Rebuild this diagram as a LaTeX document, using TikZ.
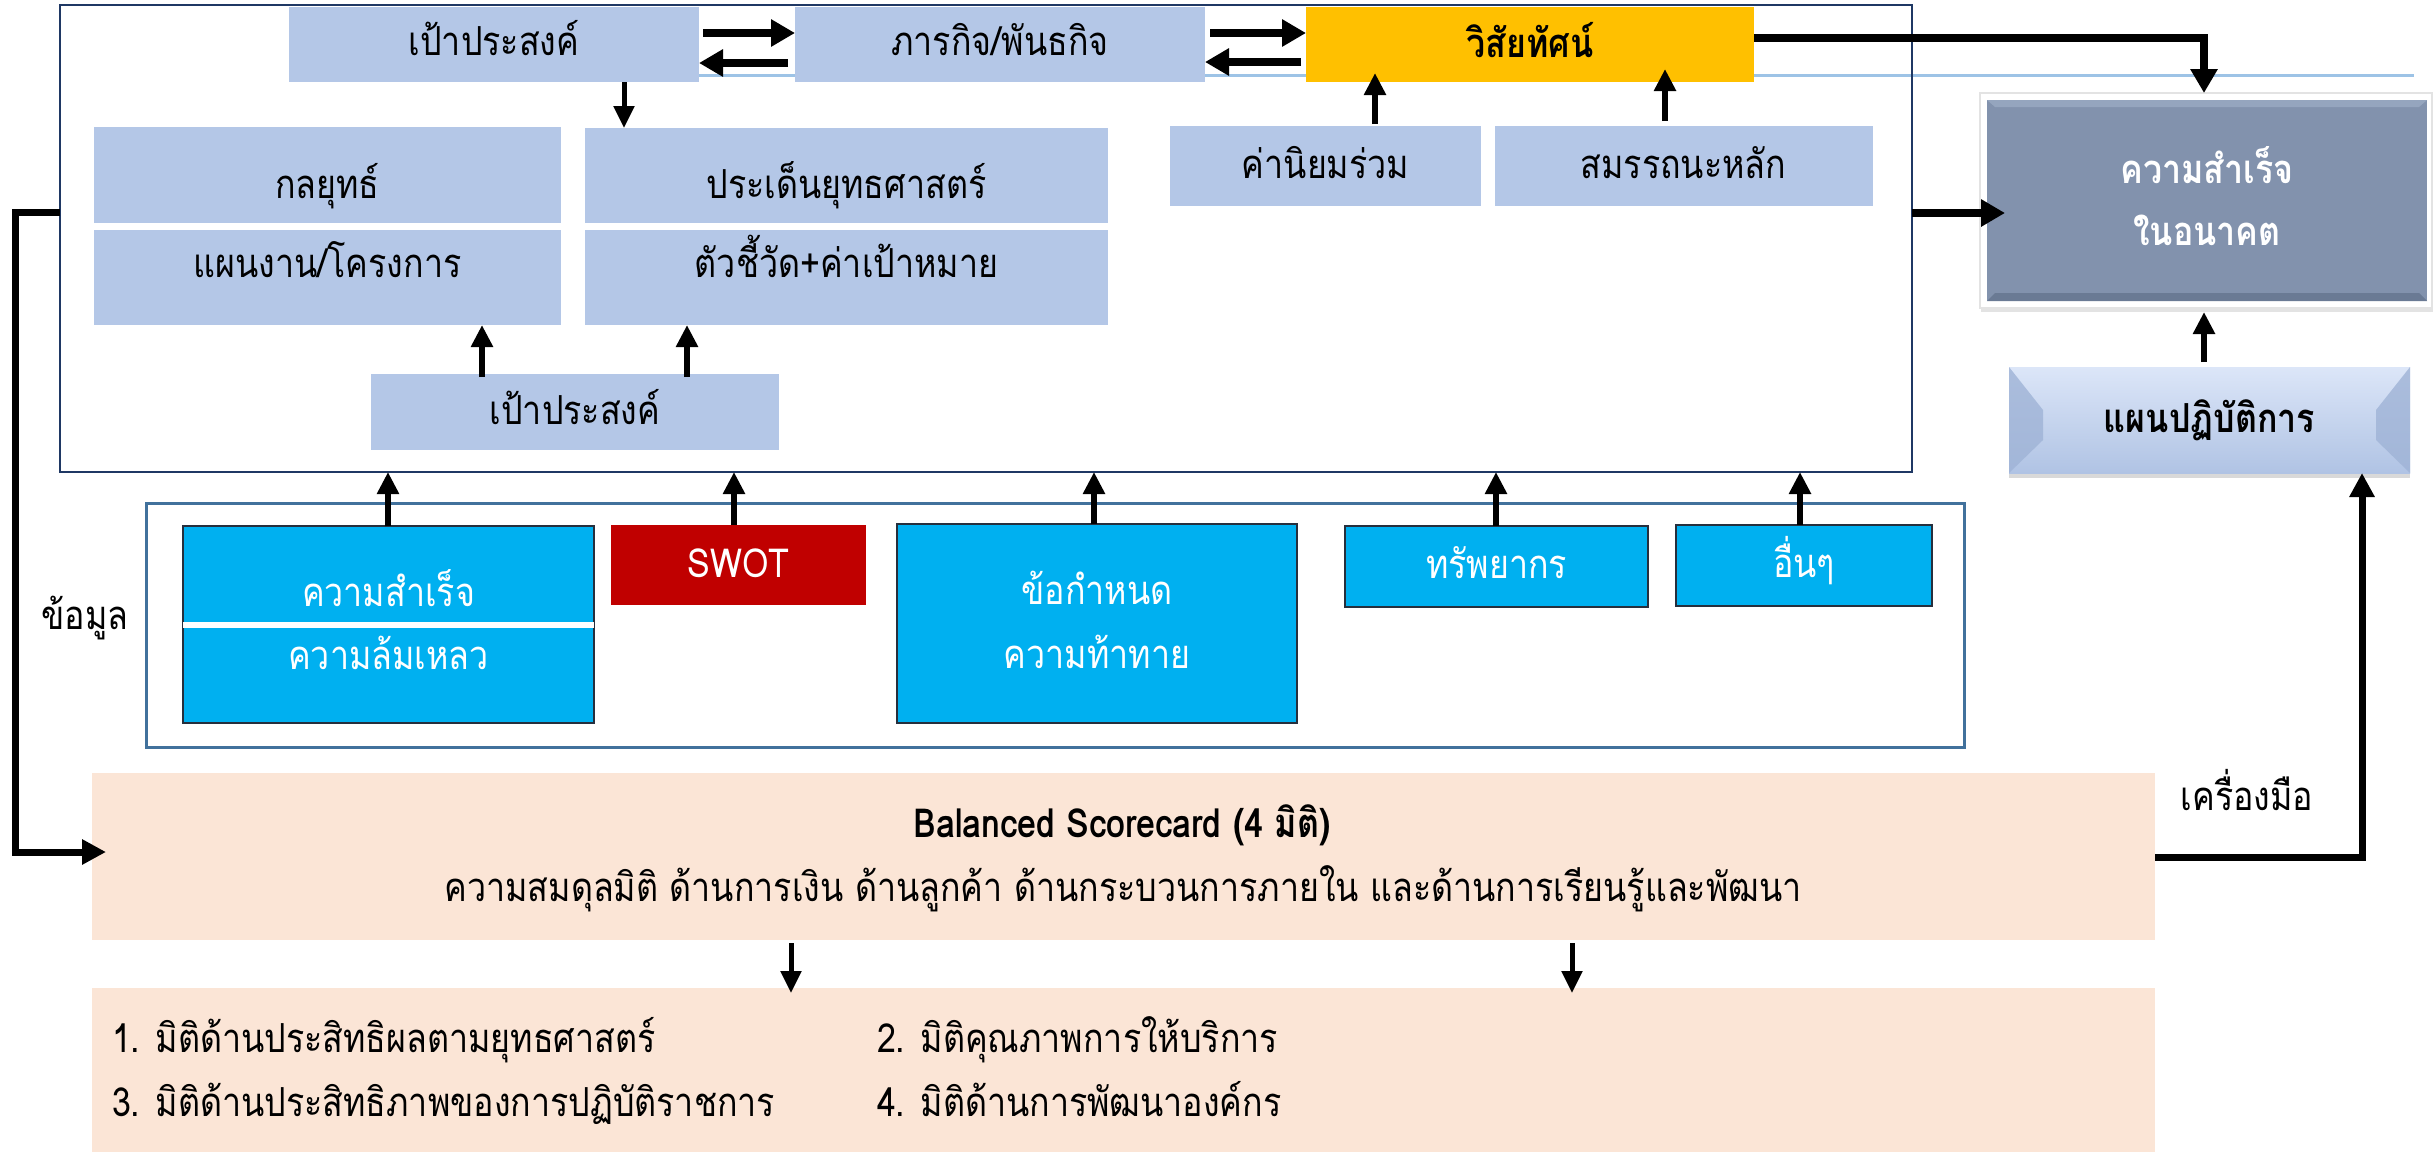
\documentclass[tikz,border=0pt]{standalone}
\usepackage{fontspec}
\setmainfont{Loma}[Script=Thai,FakeStretch=0.85]
\usetikzlibrary{arrows.meta,shadows}
\definecolor{lb}{HTML}{B4C7E7}
\definecolor{gold}{HTML}{FFC000}
\definecolor{cyanb}{HTML}{00B0F0}
\definecolor{redb}{HTML}{C00000}
\definecolor{peach}{HTML}{FBE5D6}
\definecolor{navy}{HTML}{1F3864}
\definecolor{steel}{HTML}{41719C}
\definecolor{slate}{HTML}{8292AD}
\definecolor{slatelt}{HTML}{95A5BE}
\definecolor{slatedk}{HTML}{6A7A94}
\definecolor{lline}{HTML}{9DC3E6}
\definecolor{cborder}{HTML}{262F3D}
\definecolor{actTop}{HTML}{DCE6F8}
\definecolor{actBot}{HTML}{B0C3E4}
\definecolor{bevel}{HTML}{9FB3D6}
\definecolor{shadowline}{HTML}{E3E3E3}
\begin{document}
\begin{tikzpicture}[x=1pt,y=-1pt,
  every node/.style={inner sep=0pt,outer sep=0pt},
  T/.style={font=\fontsize{40}{48}\selectfont,anchor=base},
  TB/.style={font=\fontsize{40}{48}\selectfont\bfseries,anchor=base},
  TL/.style={font=\fontsize{40}{48}\selectfont,anchor=base west},
  lbox/.style={fill=lb},
  cbox/.style={fill=cyanb,draw=cborder,line width=2.5pt},
  ar/.style={line width=6pt,-{Triangle[length=22pt,width=21pt]}},
  arT/.style={line width=5pt,-{Triangle[length=22pt,width=20pt]}},
  arB/.style={line width=8pt,-{Triangle[length=24pt,width=26pt]}},
  loop/.style={line width=7pt,-{Triangle[length=24pt,width=24pt]}}
]
\useasboundingbox (0,0) rectangle (2433,1152);

% decorative light line
\draw[lline,line width=3pt] (300,75) -- (2414,75);

% main frame
\node[draw=navy,line width=2.5pt,minimum width=1852pt,minimum height=467pt] (frame) at (986,238.5) {};

% top row
\node[lbox,minimum width=410pt,minimum height=75pt] (goal1) at (494,44.5) {};
\node[lbox,minimum width=410pt,minimum height=75pt] (mission) at (1000,44.5) {};
\node[fill=gold,minimum width=448pt,minimum height=75pt] (vision) at (1530,44.5) {};
\node[T] (goal1t) at (494,55) {เป้าประสงค์};
\node[T] (missiont) at (1000,55) {ภารกิจ/พันธกิจ};
\node[TB] (visiont) at (1530,57) {วิสัยทัศน์};

% strategy blocks
\node[lbox,minimum width=467pt,minimum height=96pt] (strat) at (327.5,175) {};
\node[lbox,minimum width=467pt,minimum height=95pt] (plan) at (327.5,277.5) {};
\node[lbox,minimum width=523pt,minimum height=95pt] (issue) at (846.5,175.5) {};
\node[lbox,minimum width=523pt,minimum height=95pt] (kpi) at (846.5,277.5) {};
\node[lbox,minimum width=408pt,minimum height=76pt] (goal2) at (575,412) {};
\node[lbox,minimum width=311pt,minimum height=80pt] (values) at (1325.5,166) {};
\node[lbox,minimum width=378pt,minimum height=80pt] (core) at (1683.5,166) {};
\node[T] (stratt) at (327.5,198) {กลยุทธ์};
\node[T] (plant) at (327.5,277) {แผนงาน/โครงการ};
\node[T] (issuet) at (846.5,198) {ประเด็นยุทธศาสตร์};
\node[T] (kpit) at (846.5,277) {ตัวชี้วัด+ค่าเป้าหมาย};
\node[T] (goal2t) at (575,424) {เป้าประสงค์};
\node[T] (valuest) at (1325.5,178) {ค่านิยมร่วม};
\node[T] (coret) at (1683.5,178) {สมรรถนะหลัก};

% success in future
\node[fill=white,draw=shadowline,line width=2pt,minimum width=452pt,minimum height=215pt,
  drop shadow={opacity=0.22,shadow xshift=1pt,shadow yshift=-4pt}] (successo) at (2206,200.5) {};
\node[fill=slate,minimum width=440pt,minimum height=201pt] (success) at (2207,200.5) {};
\fill[slatelt] (success.north west) -- (success.north east) -- ++(-8,7) -- ++(-424,0) -- cycle;
\fill[slatedk] (success.south west) -- (success.south east) -- ++(-8,-8) -- ++(-424,0) -- cycle;
\node[TB,text=white] (successt1) at (2207,183) {ความสำเร็จ};
\node[TB,text=white] (successt2) at (2207,245) {ในอนาคต};

% action plan (bevel)
\node[minimum width=401pt,minimum height=106pt,top color=actTop,bottom color=actBot,
  drop shadow={opacity=0.3,shadow xshift=0pt,shadow yshift=-5pt}] (action) at (2209.5,420) {};
\fill[bevel,opacity=0.8] (action.north west) -- ++(34,43) -- ++(0,30) -- (action.south west) -- cycle;
\fill[bevel,opacity=0.8] (action.north east) -- ++(-34,43) -- ++(0,30) -- (action.south east) -- cycle;
\node[TB] (actiont) at (2209.5,432) {แผนปฏิบัติการ};

% input frame
\node[draw=steel,line width=3pt,minimum width=1818pt,minimum height=244pt] (inframe) at (1055,625) {};
\node[cbox,minimum width=411pt,minimum height=197pt] (sf) at (388.5,624.5) {};
\draw[white,line width=6pt] (sf.west |- 0,625) -- (sf.east |- 0,625);
\node[fill=redb,minimum width=255pt,minimum height=80pt] (swot) at (738.5,565) {};
\node[cbox,minimum width=400pt,minimum height=199pt] (req) at (1097,623.5) {};
\node[cbox,minimum width=303pt,minimum height=81pt] (res) at (1496.5,566.5) {};
\node[cbox,minimum width=256pt,minimum height=81pt] (oth) at (1804,565.5) {};
\node[T,text=white] (sft1) at (388.5,606) {ความสำเร็จ};
\node[T,text=white] (sft2) at (388.5,669) {ความล้มเหลว};
\node[T,text=white] (swott) at (738.5,577) {SWOT};
\node[T,text=white] (reqt1) at (1097,604) {ข้อกำหนด};
\node[T,text=white] (reqt2) at (1097,668) {ความท้าทาย};
\node[T,text=white] (rest) at (1496.5,578) {ทรัพยากร};
\node[T,text=white] (otht) at (1804,577) {อื่นๆ};
\node[T] (datat) at (85,629) {ข้อมูล};

% balanced scorecard
\node[fill=peach,minimum width=2063pt,minimum height=167pt] (bsc) at (1123.5,856.5) {};
\node[TB] (bsct1) at (1122,837) {Balanced Scorecard (4 มิติ)};
\node[T] (bsct2) at (1123,901) {ความสมดุลมิติ ด้านการเงิน ด้านลูกค้า ด้านกระบวนการภายใน และด้านการเรียนรู้และพัฒนา};
\node[fill=peach,minimum width=2063pt,minimum height=164pt] (list) at (1123.5,1070) {};
\node[TL] (l1) at (112,1052) {1. มิติด้านประสิทธิผลตามยุทธศาสตร์};
\node[TL] (l2) at (877,1052) {2. มิติคุณภาพการให้บริการ};
\node[TL] (l3) at (112,1116) {3. มิติด้านประสิทธิภาพของการปฏิบัติราชการ};
\node[TL] (l4) at (877,1116) {4. มิติด้านการพัฒนาองค์กร};
\node[T] (toolt) at (2247,810) {เครื่องมือ};

% connectors
\draw[arB,shorten <=4pt] (goal1.east |- 0,33) -- (mission.west |- 0,33);
\draw[arB,shorten <=7pt] (mission.west |- 0,63) -- (goal1.east |- 0,63);
\draw[arB,shorten <=5pt] (mission.east |- 0,33) -- (vision.west |- 0,33);
\draw[arB,shorten <=5pt] (vision.west |- 0,62) -- (mission.east |- 0,62);
\draw[arT] (goal1.south -| 624,0) -- (issue.north -| 624,0);
\draw[ar,shorten <=-3pt] (goal2.north -| 482,0) -- (plan.south -| 482,0);
\draw[ar,shorten <=-3pt] (goal2.north -| 687,0) -- (kpi.south -| 687,0);
\draw[ar,shorten <=2pt,shorten >=-9pt] (values.north -| 1375,0) -- (vision.south -| 1375,0);
\draw[ar,shorten <=5pt,shorten >=-13pt] (core.north -| 1665,0) -- (vision.south -| 1665,0);
\draw[arB] (vision.east |- 0,38) -| (successo.north -| 2204,0);
\draw[arB,shorten >=-18pt] (frame.east |- 0,213) -- (success.west |- 0,213);
\draw[ar,shorten <=5pt,shorten >=4pt] (action.north -| 2204,0) -- (successo.south -| 2204,0);
\draw[ar] (sf.north -| 388,0) -- (frame.south -| 388,0);
\draw[ar] (swot.north -| 734,0) -- (frame.south -| 734,0);
\draw[ar] (req.north -| 1094,0) -- (frame.south -| 1094,0);
\draw[ar] (res.north -| 1496,0) -- (frame.south -| 1496,0);
\draw[ar] (oth.north -| 1800,0) -- (frame.south -| 1800,0);
\coordinate (lbend) at (15,852);
\draw[loop,shorten >=-14pt] (frame.west |- 0,212) -| (lbend) -- (bsc.west |- lbend);
\draw[loop] (bsc.east |- 0,857) -| (action.south -| 2362,0);
\draw[arT,shorten <=3pt,shorten >=-5pt] (bsc.south -| 791,0) -- (list.north -| 791,0);
\draw[arT,shorten <=3pt,shorten >=-5pt] (bsc.south -| 1572,0) -- (list.north -| 1572,0);
\end{tikzpicture}
\end{document}
